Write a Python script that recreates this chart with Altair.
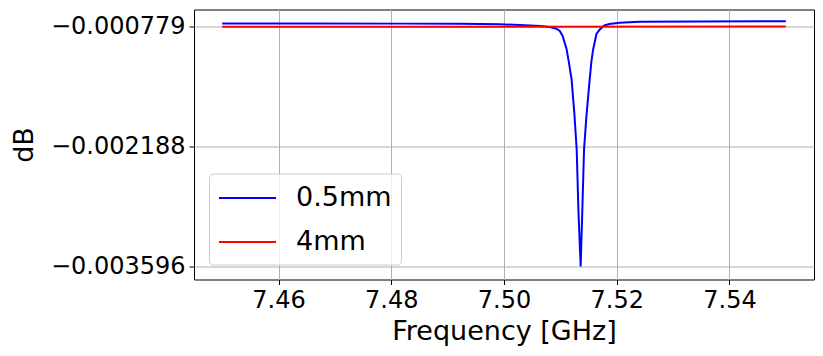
import altair as alt
import pandas as pd

# Series 0.5mm (blue)
blue_freq = [7.4500, 7.4640, 7.4816, 7.4922, 7.4993, 7.5028, 7.5064, 7.5081,
             7.5092, 7.5099, 7.5104, 7.5111, 7.5115, 7.5120, 7.5125, 7.5129,
             7.5132, 7.5136, 7.5139, 7.5142, 7.5146, 7.5151, 7.5155, 7.5158,
             7.5164, 7.5170, 7.5178, 7.5187, 7.5205, 7.5240, 7.5346, 7.5500]
blue_db = [-0.000741, -0.000741, -0.000743, -0.000745, -0.000751, -0.000759, -0.000771, -0.000783,
           -0.000800, -0.000829, -0.000888, -0.001041, -0.001193, -0.001405, -0.001815, -0.002226,
           -0.002930, -0.003596, -0.002930, -0.002226, -0.001850, -0.001475, -0.001193, -0.001052,
           -0.000865, -0.000812, -0.000765, -0.000747, -0.000733, -0.000722, -0.000717, -0.000714]

# Series 4mm (red)
red_freq = [7.45, 7.50, 7.55]
red_db = [-0.000781, -0.000779, -0.000777]

series_names = ["0.5mm", "4mm"]
series_colors = ["#0000ff", "#ff0000"]

x_ticks = [7.46, 7.48, 7.50, 7.52, 7.54]
y_ticks = [-0.000779, -0.002188, -0.003596]

df = pd.concat([
    pd.DataFrame({"freq": blue_freq, "db": blue_db, "series": series_names[0]}),
    pd.DataFrame({"freq": red_freq, "db": red_db, "series": series_names[1]}),
])

FONT = "DejaVu Sans"

chart = alt.Chart(df).mark_line(strokeWidth=2, clip=True).encode(
    x=alt.X("freq:Q",
            scale=alt.Scale(domain=[7.445, 7.555], nice=False, zero=False),
            axis=alt.Axis(values=x_ticks, format=".2f", title="Frequency [GHz]")),
    y=alt.Y("db:Q",
            scale=alt.Scale(domain=[-0.00375, -0.000577], nice=False, zero=False),
            axis=alt.Axis(values=y_ticks, format=".6f", title="dB")),
    color=alt.Color("series:N",
                    scale=alt.Scale(domain=series_names, range=series_colors),
                    legend=alt.Legend(orient="none", legendX=15, legendY=164, title=None,
                                      symbolType="M-2,0H2", symbolSize=812,
                                      symbolStrokeWidth=2, symbolOffset=14,
                                      labelOffset=33, labelFontSize=27, labelFont=FONT,
                                      labelColor="black", padding=9, rowPadding=15,
                                      fillColor="rgba(255,255,255,0.8)", strokeColor="#cccccc",
                                      cornerRadius=4)),
    order=alt.Order("freq:Q"),
).properties(
    width=620, height=270,
    autosize=alt.AutoSizeParams(type="none"),
    padding={"left": 186, "top": 1.5, "right": 1, "bottom": 69},
).configure_view(
    stroke="black", strokeWidth=1
).configure_axis(
    domain=False, grid=True, gridColor="#b0b0b0", gridWidth=1,
    tickColor="black", tickSize=5, tickWidth=1,
    labelFont=FONT, labelFontSize=24, labelColor="black", labelPadding=4,
    titleFont=FONT, titleFontSize=27, titleFontWeight="normal", titleColor="black",
).configure_axisY(titlePadding=12).configure_axisX(titlePadding=6)

chart.save("out.html", embed_options={"renderer": "svg", "actions": False})
